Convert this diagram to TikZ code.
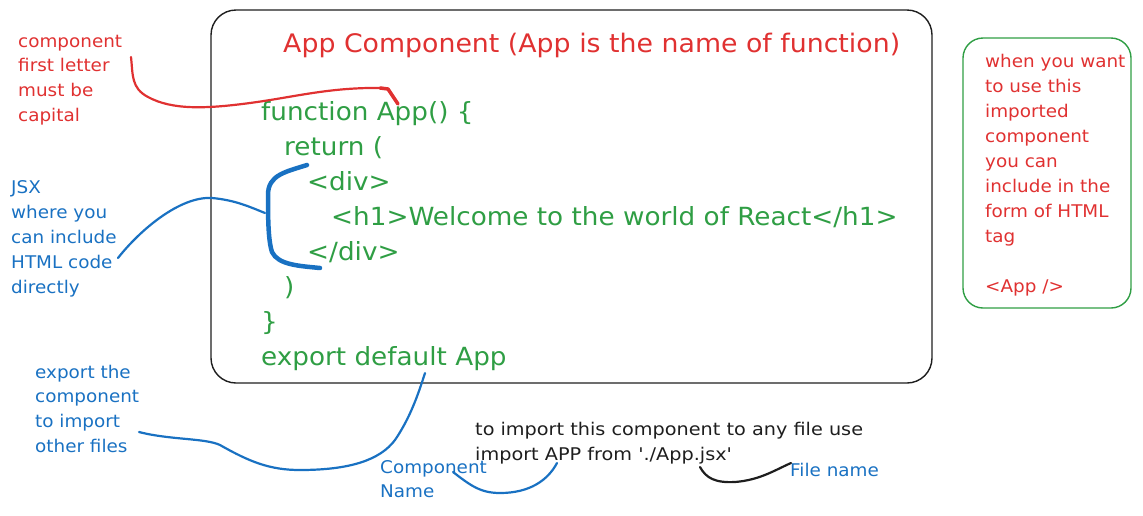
\documentclass[tikz,border=0pt]{standalone}
\usepackage{fontspec}
\setmainfont{DejaVu Sans}
\newfontfamily\codefont[FakeStretch=1.05]{DejaVu Sans}
\newfontfamily\notefont[FakeStretch=1.05]{DejaVu Sans}
\newfontfamily\blackfont[FakeStretch=1.1]{DejaVu Sans}
\definecolor{exred}{HTML}{E03131}
\definecolor{exgreen}{HTML}{2F9E44}
\definecolor{exblue}{HTML}{1971C2}
\definecolor{exblack}{HTML}{1E1E1E}
\begin{document}
\begin{tikzpicture}[x=1pt,y=-1pt,
  codetext/.style={anchor=base west,inner sep=0pt,text=exgreen,font=\codefont\fontsize{25}{30}\selectfont},
  titletext/.style={anchor=base west,inner sep=0pt,text=exred,font=\codefont\fontsize{25.5}{30}\selectfont},
  notetext/.style={anchor=base west,inner sep=0pt,font=\notefont\fontsize{17.5}{21}\selectfont},
  blacktext/.style={anchor=base west,inner sep=0pt,text=exblack,font=\blackfont\fontsize{17.5}{21}\selectfont},
  thinline/.style={line width=2.2pt,line cap=round,line join=round},
  thickline/.style={line width=4.5pt,line cap=round,line join=round}]
\useasboundingbox (0,0) rectangle (1143,515);

% main box
\draw[exblack,line width=1.4pt,rounded corners=25pt] (211,10) rectangle (932,383);
% right box
\draw[exgreen,line width=1.4pt,rounded corners=20pt] (963,38) rectangle (1131,308);

% title
\node[titletext] (title) at (283,52) {App Component (App is the name of function)};

% code
\node[codetext] (c1) at (261,120) {function App() \{};
\node[codetext] (c2) at (284,155) {return (};
\node[codetext] (c3) at (307,190) {<div>};
\node[codetext] (c4) at (331,225) {<h1>Welcome to the world of React</h1>};
\node[codetext] (c5) at (307,260) {</div>};
\node[codetext] (c6) at (284,295) {)};
\node[codetext] (c7) at (261,330) {\}};
\node[codetext] (c8) at (261,365) {export default App};

% red note left
\foreach \t [count=\i] in {component,first letter,must be,capital}
  \node[notetext,text=exred] (r\i) at (18,{47+(\i-1)*24.8}) {\t};

% blue JSX note
\foreach \t [count=\i] in {JSX,where you,can include,HTML code,directly}
  \node[notetext,text=exblue] (j\i) at (11,{193+(\i-1)*25}) {\t};

% blue export note
\foreach \t [count=\i] in {export the,component,to import,other files}
  \node[notetext,text=exblue] (e\i) at (35,{378+(\i-1)*24.7}) {\t};

% right box note
\foreach \t [count=\i] in {when you want,to use this,imported,component,you can,include in the,form of HTML,tag}
  \node[notetext,text=exred] (g\i) at (985,{67+(\i-1)*25}) {\t};
\node[notetext,text=exred] (gapp) at (985,292) {<App />};

% black import note
\node[blacktext] (b1) at (475,435) {to import this component to any file use};
\node[blacktext] (b2) at (475,460) {import APP from './App.jsx'};

% component name / file name
\node[notetext,text=exblue] (cn1) at (380,473) {Component};
\node[notetext,text=exblue] (cn2) at (380,497) {Name};
\node[notetext,text=exblue] (fn) at (790,476) {File name};

% coordinates for connectors
\coordinate (redA) at (131,57);
\coordinate (redB) at (383,88);
\coordinate (redC) at (398,104);
\coordinate (jsxA) at (118,258);
\coordinate (jsxB) at (265,213);
\coordinate (brA) at (307,165);
\coordinate (brB) at (320,268);
\coordinate (exA) at (139,432);
\coordinate (exB) at (425,373);
\coordinate (cnA) at (453,472);
\coordinate (cnB) at (557,463);
\coordinate (fnA) at (700,467);
\coordinate (fnB) at (791,463);

% red connector
\draw[exred,thinline] (redA) .. controls (133,75) and (131,88) .. (148,97)
  .. controls (172,110) and (205,109) .. (250,103)
  .. controls (295,97) and (330,87) .. (redB);
\draw[exred,thickline,line width=3.5pt] (380,88) -- (388,89) -- (redC);

% JSX connector and brace
\draw[exblue,thinline] (jsxA) .. controls (140,230) and (180,196) .. (212,198)
  .. controls (235,200) and (250,207) .. (jsxB);
\draw[exblue,thickline] (brA) .. controls (285,172) and (268,175) .. (268,195)
  .. controls (268,215) and (268,240) .. (272,252)
  .. controls (278,265) and (300,266) .. (brB);

% export connector
\draw[exblue,thinline] (exA) .. controls (170,440) and (205,438) .. (220,445)
  .. controls (250,462) and (270,470) .. (300,470)
  .. controls (350,470) and (380,460) .. (395,440)
  .. controls (410,418) and (418,395) .. (exB);

% component name connector
\draw[exblue,thinline] (cnA) .. controls (470,485) and (480,493) .. (500,493)
  .. controls (530,493) and (548,480) .. (cnB);

% file name connector
\draw[exblack,thinline] (fnA) .. controls (706,478) and (715,483) .. (735,482)
  .. controls (760,480) and (775,470) .. (fnB);
\end{tikzpicture}
\end{document}
